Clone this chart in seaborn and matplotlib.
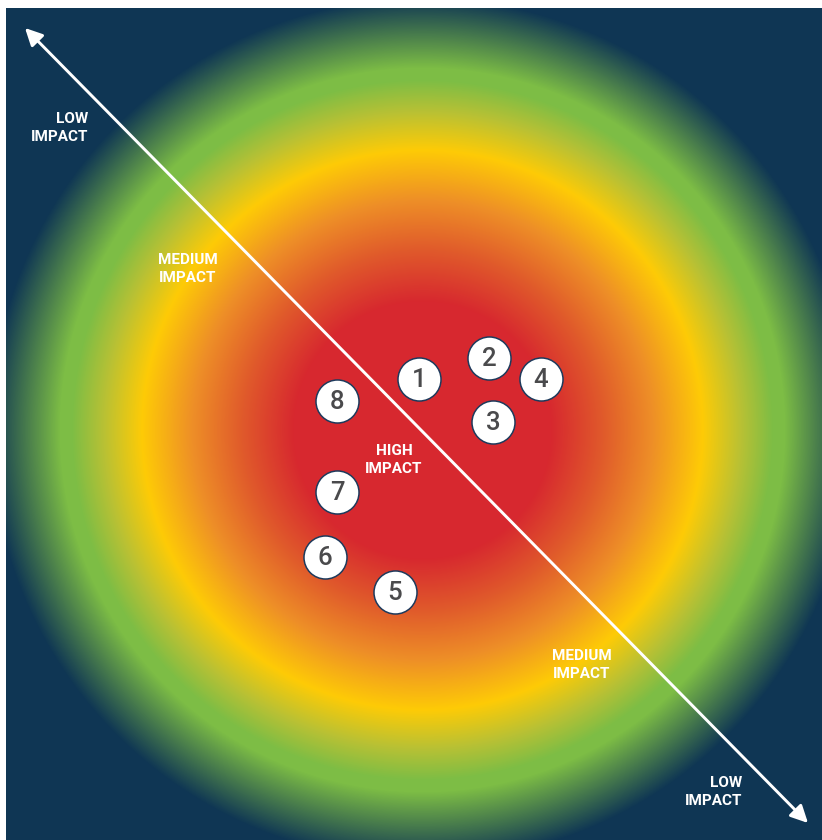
import numpy as np
import pandas as pd
import matplotlib.pyplot as plt
import seaborn as sns
from matplotlib.colors import LinearSegmentedColormap

# --- Configuration ---
sns.set_theme(style="white")
plt.rcParams['font.family'] = ['Roboto', 'DejaVu Sans']

# --- Data (pixel coordinates of the risk map) ---
RISK_IDS = ['1', '2', '3', '4', '5', '6', '7', '8']
RISK_X = [419, 489, 493, 541, 395, 325, 337, 337]
RISK_Y = [379, 358, 422, 379, 592, 557, 492, 401]

ZONE_LABELS = ['LOW\nIMPACT', 'MEDIUM\nIMPACT', 'HIGH\nIMPACT', 'MEDIUM\nIMPACT', 'LOW\nIMPACT']
ZONE_X = [88, 188, 394, 582, 742]
ZONE_Y = [128, 269, 460, 665, 792]

# radial colour ramp: distance from centre (px) -> colour
GRADIENT_RADIUS = [0, 128, 180, 230, 280, 318, 350, 362, 432]
GRADIENT_COLORS = ['#d7282f', '#d7282f', '#e05a2b', '#ee8f27', '#fecb06',
                   '#b9c134', '#7dbd45', '#7dbd45', '#0f3654']
CENTER_X, CENTER_Y = 422, 430

W, H = 822, 840


def build_background(ax):
    """Radial heat gradient on the navy panel."""
    r_max = GRADIENT_RADIUS[-1]
    stops = [(r / r_max, c) for r, c in zip(GRADIENT_RADIUS, GRADIENT_COLORS)]
    cmap = LinearSegmentedColormap.from_list('impact', stops, N=1024)

    xs = np.arange(6, W) + 0.5
    ys = np.arange(8, H) + 0.5
    X, Y = np.meshgrid(xs, ys)
    dist = np.sqrt((X - CENTER_X) ** 2 + (Y - CENTER_Y) ** 2)
    rgba = cmap(np.clip(dist / r_max, 0, 1))
    ax.imshow(rgba, extent=(6, W, H, 8), origin='upper',
              interpolation='none', aspect='auto', zorder=0)


def create_plot():
    fig = plt.figure(figsize=(W / 100, H / 100), dpi=100, facecolor='white')
    ax = fig.add_axes([0, 0, 1, 1])
    ax.set_xlim(0, W)
    ax.set_ylim(H, 0)
    ax.axis('off')

    build_background(ax)

    # diagonal impact axis
    ax.annotate('', xy=(25, 28), xytext=(808, 823),
                arrowprops=dict(arrowstyle='<|-|>', color='white', lw=2.1,
                                mutation_scale=26, shrinkA=0, shrinkB=0),
                zorder=2)

    # zone labels
    aligns = ['right', 'center', 'center', 'center', 'right']
    for label, x, y, ha in zip(ZONE_LABELS, ZONE_X, ZONE_Y, aligns):
        ax.text(x, y, label, color='white', fontsize=11, fontweight='bold',
                ha=ha, va='center', multialignment=ha, linespacing=1.45,
                zorder=4)

    # numbered risks
    df = pd.DataFrame({'id': RISK_IDS, 'x': RISK_X, 'y': RISK_Y})
    sns.scatterplot(data=df, x='x', y='y', s=960, color='white',
                    edgecolor='#1d3a5c', linewidth=1.1, legend=False,
                    ax=ax, zorder=5)
    for _, row in df.iterrows():
        ax.text(row['x'], row['y'] + 1, row['id'], color='#4a4a4c',
                fontsize=18.5, fontweight='medium', ha='center', va='center',
                zorder=6)

    ax.set_xlim(0, W)
    ax.set_ylim(H, 0)
    ax.set_xlabel('')
    ax.set_ylabel('')
    fig.savefig('out.png', dpi=100, facecolor='white')


if __name__ == "__main__":
    create_plot()
